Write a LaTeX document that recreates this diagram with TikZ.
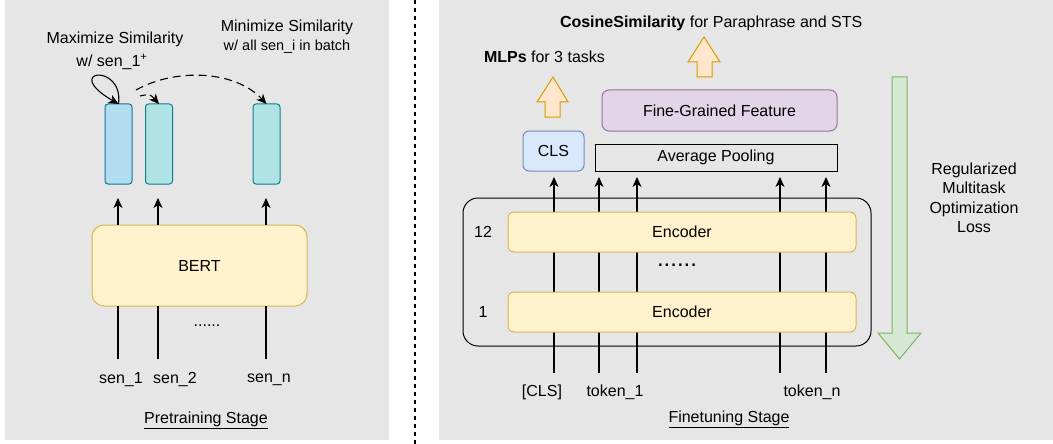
\documentclass[tikz,border=0pt]{standalone}
\usepackage{fontspec}
\setmainfont{Liberation Sans}
\usetikzlibrary{arrows.meta}
\definecolor{panelgray}{HTML}{E6E6E6}
\definecolor{vecblue}{HTML}{B1DDF0}
\definecolor{vecbluedraw}{HTML}{10739E}
\definecolor{vecteal}{HTML}{B0E3E6}
\definecolor{vectealdraw}{HTML}{0E8088}
\definecolor{yelfill}{HTML}{FFF2CC}
\definecolor{yeldraw}{HTML}{D6B656}
\definecolor{clsfill}{HTML}{DAE8FC}
\definecolor{clsdraw}{HTML}{6C8EBF}
\definecolor{purfill}{HTML}{E1D5E7}
\definecolor{purdraw}{HTML}{9673A6}
\definecolor{orfill}{HTML}{FFE6CC}
\definecolor{ordraw}{HTML}{D79B00}
\definecolor{grfill}{HTML}{D5E8D4}
\definecolor{grdraw}{HTML}{82B366}
\begin{document}
\begin{tikzpicture}[x=1pt,y=-1pt,
  font=\fontsize{16}{19.5}\selectfont,
  every node/.style={inner sep=0pt, outer sep=0pt},
  conn/.style={line width=1.1pt, draw=black},
  arr/.style={conn, -{Stealth[length=10pt,width=9pt,inset=3pt]}},
  vecbox/.style={draw=#1, line width=1pt, rounded corners=3pt, minimum width=27pt, minimum height=80pt},
  yelbox/.style={draw=yeldraw, fill=yelfill, line width=1pt, rounded corners=6pt},
  blockarrow/.style={line width=1pt},
]
\useasboundingbox (0,0) rectangle (1053,444);
\fill[white] (0,0) rectangle (1053,444);
% panels
\fill[panelgray] (5,0) rectangle (389,440);
\fill[panelgray] (439,0) rectangle (1053,440);
\draw[line width=1.3pt, dash pattern=on 4pt off 4pt] (415,0) -- (415,444);

% ---------- Pretraining stage ----------
\node[yelbox, minimum width=215pt, minimum height=81pt, rounded corners=12pt] (bert) at (199.5,265.5) {BERT};
\node[vecbox=vecbluedraw, fill=vecblue] (v1) at (118.5,144) {};
\node[vecbox=vectealdraw, fill=vecteal] (v2) at (159,144) {};
\node[vecbox=vectealdraw, fill=vecteal] (v3) at (266.5,144) {};

\coordinate (in1) at (118,359);
\coordinate (in2) at (158,359);
\coordinate (in3) at (266,359);
\coordinate (o1) at (118,198);
\coordinate (o2) at (158,198);
\coordinate (o3) at (266,198);
\draw[conn] (in1) -- (in1 |- bert.south);
\draw[conn] (in2) -- (in2 |- bert.south);
\draw[conn] (in3) -- (in3 |- bert.south);
\draw[arr] (o1 |- bert.north) -- (o1);
\draw[arr] (o2 |- bert.north) -- (o2);
\draw[arr] (o3 |- bert.north) -- (o3);

\node (dotsL) at (207,326) {......};
\node (sen1) at (121,380) {sen\_1};
\node (sen2) at (175,380) {sen\_2};
\node (senn) at (269,380) {sen\_n};
\node (pretrain) at (206,420) {\underline{Pretraining Stage}};

\node (maxl1) at (115,39) {Maximize Similarity};
\node (maxl2) at (112,62) {w/ sen\_1\textsuperscript{+}};
\node (minl1) at (287,27) {Minimize Similarity};
\node[font=\fontsize{14.5}{17}\selectfont] (minl2) at (287,47) {w/ all sen\_i in batch};

\draw[arr] (v1.north) .. controls (124,62) and (60,70) .. (v1.north);
\coordinate (dl) at (136,90);
\coordinate (ds) at (140,96);
\draw[arr, dash pattern=on 8pt off 5pt] (dl) .. controls (175,68) and (235,70) .. (v3.north);
\draw[arr, dash pattern=on 6pt off 4pt] (ds) .. controls (150,94) .. (v2.north);

% ---------- Finetuning stage ----------
\coordinate (t0) at (554,373);
\coordinate (t1) at (599,373);
\coordinate (t2) at (637,373);
\coordinate (t3) at (780,373);
\coordinate (t4) at (826,373);
\coordinate (u0) at (554,177);
\coordinate (u1) at (599,177);
\coordinate (u2) at (637,177);
\coordinate (u3) at (780,177);
\coordinate (u4) at (826,177);
\draw[arr] (t0) -- (u0);
\draw[arr] (t1) -- (u1);
\draw[arr] (t2) -- (u2);
\draw[arr] (t3) -- (u3);
\draw[arr] (t4) -- (u4);

\node[draw=black, line width=1pt, rounded corners=15pt, minimum width=408pt, minimum height=148pt] (outer) at (667,272) {};
\node[yelbox, minimum width=348pt, minimum height=40pt] (enc12) at (682,232) {Encoder};
\node[yelbox, minimum width=348pt, minimum height=40pt] (enc1) at (682,312) {Encoder};
\node (l12) at (483,232) {12};
\node (l1) at (483,312) {1};
\node[font=\fontsize{24}{24}\selectfont] (dotsR) at (677,265) {......};

\node[draw=clsdraw, fill=clsfill, line width=1pt, rounded corners=6pt, minimum width=61pt, minimum height=40pt] (cls) at (553.5,151) {CLS};
\node[draw=black, line width=1pt, minimum width=242pt, minimum height=27pt] (avg) at (716,157.5) {Average Pooling};
\node[draw=purdraw, fill=purfill, line width=1pt, rounded corners=7pt, minimum width=235pt, minimum height=41pt] (fgf) at (719.5,110.5) {Fine-Grained Feature};

\node (tcls) at (542,392) {[CLS]};
\node (tok1) at (615,392) {token\_1};
\node (tokn) at (812,392) {token\_n};
\node (finetune) at (729,419) {\underline{Finetuning Stage}};

% block arrows
\draw[blockarrow, draw=ordraw, fill=orfill] (545,117) -- (545,102) -- (537,102) -- (553,77) -- (568,102) -- (560,102) -- (560,117) -- cycle;
\draw[blockarrow, draw=ordraw, fill=orfill] (697,77) -- (697,62) -- (688,62) -- (704,37) -- (720,62) -- (712,62) -- (712,77) -- cycle;
\draw[blockarrow, draw=grdraw, fill=grfill] (892,77) -- (892,333) -- (878,333) -- (899.5,359) -- (921,333) -- (907,333) -- (907,77) -- cycle;

\node[anchor=west] (mlp) at (484,57) {\textbf{MLPs} for 3 tasks};
\node[anchor=west] (cos) at (560,23) {\textbf{CosineSimilarity} for Paraphrase and STS};
\node[align=center] (loss) at (974,198) {Regularized\\Multitask\\Optimization\\Loss};
\end{tikzpicture}
\end{document}
